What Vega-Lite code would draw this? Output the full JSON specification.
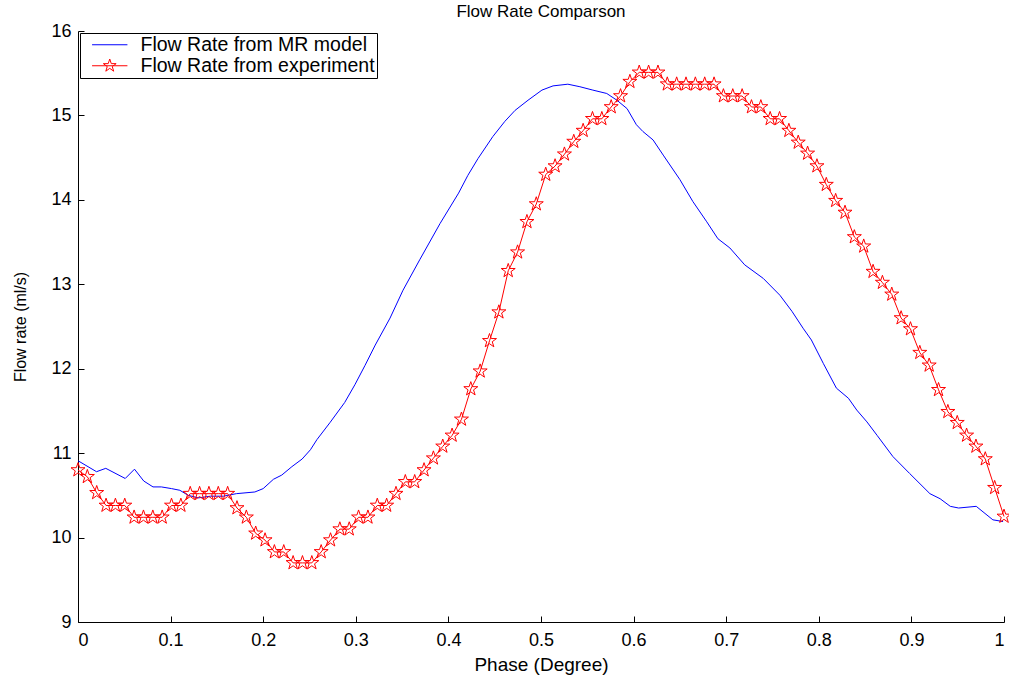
{
  "$schema": "https://vega.github.io/schema/vega-lite/v6.json",
  "width": 926,
  "height": 591,
  "autosize": {"type": "none"},
  "padding": {"left": 78, "top": 31, "right": 5, "bottom": 60},
  "background": "white",
  "title": {"text": "Flow Rate Comparson", "fontSize": 17, "fontWeight": "normal", "font": "Liberation Sans", "offset": 1, "anchor": "middle", "color": "black"},
  "config": {"view": {"stroke": null}, "font": "Liberation Sans"},
  "data": {"values": [
    {"s": "model", "phase": 0.000, "rate": 10.91},
    {"s": "model", "phase": 0.020, "rate": 10.78},
    {"s": "model", "phase": 0.030, "rate": 10.82},
    {"s": "model", "phase": 0.051, "rate": 10.70},
    {"s": "model", "phase": 0.061, "rate": 10.81},
    {"s": "model", "phase": 0.071, "rate": 10.67},
    {"s": "model", "phase": 0.081, "rate": 10.60},
    {"s": "model", "phase": 0.090, "rate": 10.60},
    {"s": "model", "phase": 0.101, "rate": 10.58},
    {"s": "model", "phase": 0.110, "rate": 10.56},
    {"s": "model", "phase": 0.119, "rate": 10.50},
    {"s": "model", "phase": 0.130, "rate": 10.47},
    {"s": "model", "phase": 0.143, "rate": 10.49},
    {"s": "model", "phase": 0.157, "rate": 10.49},
    {"s": "model", "phase": 0.171, "rate": 10.52},
    {"s": "model", "phase": 0.191, "rate": 10.54},
    {"s": "model", "phase": 0.200, "rate": 10.58},
    {"s": "model", "phase": 0.211, "rate": 10.69},
    {"s": "model", "phase": 0.220, "rate": 10.74},
    {"s": "model", "phase": 0.231, "rate": 10.84},
    {"s": "model", "phase": 0.242, "rate": 10.93},
    {"s": "model", "phase": 0.251, "rate": 11.04},
    {"s": "model", "phase": 0.258, "rate": 11.16},
    {"s": "model", "phase": 0.272, "rate": 11.36},
    {"s": "model", "phase": 0.288, "rate": 11.60},
    {"s": "model", "phase": 0.299, "rate": 11.81},
    {"s": "model", "phase": 0.310, "rate": 12.04},
    {"s": "model", "phase": 0.321, "rate": 12.28},
    {"s": "model", "phase": 0.337, "rate": 12.60},
    {"s": "model", "phase": 0.351, "rate": 12.93},
    {"s": "model", "phase": 0.369, "rate": 13.29},
    {"s": "model", "phase": 0.391, "rate": 13.72},
    {"s": "model", "phase": 0.411, "rate": 14.08},
    {"s": "model", "phase": 0.421, "rate": 14.29},
    {"s": "model", "phase": 0.432, "rate": 14.49},
    {"s": "model", "phase": 0.448, "rate": 14.75},
    {"s": "model", "phase": 0.461, "rate": 14.93},
    {"s": "model", "phase": 0.472, "rate": 15.06},
    {"s": "model", "phase": 0.486, "rate": 15.18},
    {"s": "model", "phase": 0.501, "rate": 15.30},
    {"s": "model", "phase": 0.513, "rate": 15.35},
    {"s": "model", "phase": 0.529, "rate": 15.37},
    {"s": "model", "phase": 0.542, "rate": 15.34},
    {"s": "model", "phase": 0.556, "rate": 15.30},
    {"s": "model", "phase": 0.571, "rate": 15.26},
    {"s": "model", "phase": 0.582, "rate": 15.18},
    {"s": "model", "phase": 0.593, "rate": 15.08},
    {"s": "model", "phase": 0.603, "rate": 14.89},
    {"s": "model", "phase": 0.610, "rate": 14.81},
    {"s": "model", "phase": 0.621, "rate": 14.71},
    {"s": "model", "phase": 0.632, "rate": 14.53},
    {"s": "model", "phase": 0.650, "rate": 14.24},
    {"s": "model", "phase": 0.664, "rate": 13.98},
    {"s": "model", "phase": 0.679, "rate": 13.74},
    {"s": "model", "phase": 0.691, "rate": 13.54},
    {"s": "model", "phase": 0.704, "rate": 13.43},
    {"s": "model", "phase": 0.720, "rate": 13.23},
    {"s": "model", "phase": 0.740, "rate": 13.07},
    {"s": "model", "phase": 0.758, "rate": 12.87},
    {"s": "model", "phase": 0.771, "rate": 12.68},
    {"s": "model", "phase": 0.783, "rate": 12.48},
    {"s": "model", "phase": 0.792, "rate": 12.34},
    {"s": "model", "phase": 0.805, "rate": 12.06},
    {"s": "model", "phase": 0.819, "rate": 11.77},
    {"s": "model", "phase": 0.832, "rate": 11.65},
    {"s": "model", "phase": 0.841, "rate": 11.51},
    {"s": "model", "phase": 0.852, "rate": 11.37},
    {"s": "model", "phase": 0.863, "rate": 11.21},
    {"s": "model", "phase": 0.880, "rate": 10.96},
    {"s": "model", "phase": 0.898, "rate": 10.76},
    {"s": "model", "phase": 0.920, "rate": 10.52},
    {"s": "model", "phase": 0.931, "rate": 10.46},
    {"s": "model", "phase": 0.942, "rate": 10.37},
    {"s": "model", "phase": 0.951, "rate": 10.35},
    {"s": "model", "phase": 0.970, "rate": 10.37},
    {"s": "model", "phase": 0.988, "rate": 10.21},
    {"s": "model", "phase": 0.999, "rate": 10.19},
    {"s": "experiment", "phase": 0.0000, "rate": 10.80},
    {"s": "experiment", "phase": 0.0101, "rate": 10.72},
    {"s": "experiment", "phase": 0.0202, "rate": 10.53},
    {"s": "experiment", "phase": 0.0303, "rate": 10.38},
    {"s": "experiment", "phase": 0.0404, "rate": 10.38},
    {"s": "experiment", "phase": 0.0505, "rate": 10.38},
    {"s": "experiment", "phase": 0.0606, "rate": 10.24},
    {"s": "experiment", "phase": 0.0707, "rate": 10.24},
    {"s": "experiment", "phase": 0.0808, "rate": 10.24},
    {"s": "experiment", "phase": 0.0909, "rate": 10.24},
    {"s": "experiment", "phase": 0.1010, "rate": 10.38},
    {"s": "experiment", "phase": 0.1111, "rate": 10.38},
    {"s": "experiment", "phase": 0.1212, "rate": 10.52},
    {"s": "experiment", "phase": 0.1313, "rate": 10.52},
    {"s": "experiment", "phase": 0.1414, "rate": 10.52},
    {"s": "experiment", "phase": 0.1515, "rate": 10.52},
    {"s": "experiment", "phase": 0.1616, "rate": 10.52},
    {"s": "experiment", "phase": 0.1717, "rate": 10.35},
    {"s": "experiment", "phase": 0.1818, "rate": 10.24},
    {"s": "experiment", "phase": 0.1919, "rate": 10.05},
    {"s": "experiment", "phase": 0.2020, "rate": 9.97},
    {"s": "experiment", "phase": 0.2121, "rate": 9.83},
    {"s": "experiment", "phase": 0.2222, "rate": 9.83},
    {"s": "experiment", "phase": 0.2323, "rate": 9.70},
    {"s": "experiment", "phase": 0.2424, "rate": 9.70},
    {"s": "experiment", "phase": 0.2525, "rate": 9.70},
    {"s": "experiment", "phase": 0.2626, "rate": 9.83},
    {"s": "experiment", "phase": 0.2727, "rate": 9.97},
    {"s": "experiment", "phase": 0.2828, "rate": 10.10},
    {"s": "experiment", "phase": 0.2929, "rate": 10.10},
    {"s": "experiment", "phase": 0.3030, "rate": 10.24},
    {"s": "experiment", "phase": 0.3131, "rate": 10.24},
    {"s": "experiment", "phase": 0.3232, "rate": 10.38},
    {"s": "experiment", "phase": 0.3333, "rate": 10.38},
    {"s": "experiment", "phase": 0.3434, "rate": 10.52},
    {"s": "experiment", "phase": 0.3535, "rate": 10.66},
    {"s": "experiment", "phase": 0.3636, "rate": 10.66},
    {"s": "experiment", "phase": 0.3737, "rate": 10.80},
    {"s": "experiment", "phase": 0.3838, "rate": 10.94},
    {"s": "experiment", "phase": 0.3939, "rate": 11.08},
    {"s": "experiment", "phase": 0.4040, "rate": 11.21},
    {"s": "experiment", "phase": 0.4141, "rate": 11.40},
    {"s": "experiment", "phase": 0.4242, "rate": 11.76},
    {"s": "experiment", "phase": 0.4343, "rate": 11.97},
    {"s": "experiment", "phase": 0.4444, "rate": 12.33},
    {"s": "experiment", "phase": 0.4545, "rate": 12.67},
    {"s": "experiment", "phase": 0.4646, "rate": 13.16},
    {"s": "experiment", "phase": 0.4747, "rate": 13.38},
    {"s": "experiment", "phase": 0.4848, "rate": 13.74},
    {"s": "experiment", "phase": 0.4949, "rate": 13.95},
    {"s": "experiment", "phase": 0.5051, "rate": 14.30},
    {"s": "experiment", "phase": 0.5152, "rate": 14.40},
    {"s": "experiment", "phase": 0.5253, "rate": 14.54},
    {"s": "experiment", "phase": 0.5354, "rate": 14.69},
    {"s": "experiment", "phase": 0.5455, "rate": 14.82},
    {"s": "experiment", "phase": 0.5556, "rate": 14.96},
    {"s": "experiment", "phase": 0.5657, "rate": 14.96},
    {"s": "experiment", "phase": 0.5758, "rate": 15.10},
    {"s": "experiment", "phase": 0.5859, "rate": 15.23},
    {"s": "experiment", "phase": 0.5960, "rate": 15.40},
    {"s": "experiment", "phase": 0.6061, "rate": 15.51},
    {"s": "experiment", "phase": 0.6162, "rate": 15.51},
    {"s": "experiment", "phase": 0.6263, "rate": 15.51},
    {"s": "experiment", "phase": 0.6364, "rate": 15.37},
    {"s": "experiment", "phase": 0.6465, "rate": 15.37},
    {"s": "experiment", "phase": 0.6566, "rate": 15.37},
    {"s": "experiment", "phase": 0.6667, "rate": 15.37},
    {"s": "experiment", "phase": 0.6768, "rate": 15.37},
    {"s": "experiment", "phase": 0.6869, "rate": 15.37},
    {"s": "experiment", "phase": 0.6970, "rate": 15.23},
    {"s": "experiment", "phase": 0.7071, "rate": 15.23},
    {"s": "experiment", "phase": 0.7172, "rate": 15.23},
    {"s": "experiment", "phase": 0.7273, "rate": 15.10},
    {"s": "experiment", "phase": 0.7374, "rate": 15.10},
    {"s": "experiment", "phase": 0.7475, "rate": 14.96},
    {"s": "experiment", "phase": 0.7576, "rate": 14.96},
    {"s": "experiment", "phase": 0.7677, "rate": 14.82},
    {"s": "experiment", "phase": 0.7778, "rate": 14.68},
    {"s": "experiment", "phase": 0.7879, "rate": 14.55},
    {"s": "experiment", "phase": 0.7980, "rate": 14.40},
    {"s": "experiment", "phase": 0.8081, "rate": 14.18},
    {"s": "experiment", "phase": 0.8182, "rate": 13.99},
    {"s": "experiment", "phase": 0.8283, "rate": 13.85},
    {"s": "experiment", "phase": 0.8384, "rate": 13.56},
    {"s": "experiment", "phase": 0.8485, "rate": 13.45},
    {"s": "experiment", "phase": 0.8586, "rate": 13.15},
    {"s": "experiment", "phase": 0.8687, "rate": 13.02},
    {"s": "experiment", "phase": 0.8788, "rate": 12.88},
    {"s": "experiment", "phase": 0.8889, "rate": 12.60},
    {"s": "experiment", "phase": 0.8990, "rate": 12.47},
    {"s": "experiment", "phase": 0.9091, "rate": 12.19},
    {"s": "experiment", "phase": 0.9192, "rate": 12.04},
    {"s": "experiment", "phase": 0.9293, "rate": 11.75},
    {"s": "experiment", "phase": 0.9394, "rate": 11.49},
    {"s": "experiment", "phase": 0.9495, "rate": 11.36},
    {"s": "experiment", "phase": 0.9596, "rate": 11.21},
    {"s": "experiment", "phase": 0.9697, "rate": 11.08},
    {"s": "experiment", "phase": 0.9798, "rate": 10.93},
    {"s": "experiment", "phase": 0.9899, "rate": 10.59},
    {"s": "experiment", "phase": 1.0000, "rate": 10.25}
  ]},
  "layer": [
    {
      "mark": {"type": "line", "strokeWidth": 1, "clip": false},
      "encoding": {
        "x": {"field": "phase", "type": "quantitative",
          "scale": {"domain": [0, 1], "nice": false, "zero": false},
          "axis": {"title": "Phase (Degree)", "values": [0, 0.1, 0.2, 0.3, 0.4, 0.5, 0.6, 0.7, 0.8, 0.9, 1], "format": "~g", "grid": false,
            "domainColor": "black", "tickColor": "black", "tickSize": -6, "labelPadding": 15,
            "labelFontSize": 18, "labelColor": "black", "labelFont": "Liberation Sans",
            "titleFontSize": 19, "titleFontWeight": "normal", "titleColor": "black", "titleFont": "Liberation Sans", "titlePadding": 6}},
        "y": {"field": "rate", "type": "quantitative",
          "scale": {"domain": [9, 16], "nice": false, "zero": false},
          "axis": {"title": "Flow rate (ml/s)", "values": [9, 10, 11, 12, 13, 14, 15, 16], "format": "d", "grid": false,
            "domainColor": "black", "tickColor": "black", "tickSize": -6, "labelPadding": 13,
            "labelFontSize": 18, "labelColor": "black", "labelFont": "Liberation Sans",
            "titleFontSize": 16, "titleFontWeight": "normal", "titleColor": "black", "titleFont": "Liberation Sans", "titlePadding": 22}},
        "color": {"field": "s", "type": "nominal",
          "scale": {"domain": ["model", "experiment"], "range": ["#0000ff", "#ff0000"]},
          "legend": {"orient": "top-left", "offset": 2, "title": null,
            "strokeColor": "black", "fillColor": "white", "padding": 2,
            "symbolType": "stroke", "symbolSize": 200, "symbolStrokeWidth": 1, "symbolOffset": 18,
            "labelFontSize": 19.5, "labelFont": "Liberation Sans", "labelColor": "black", "labelOffset": 21, "labelLimit": 500,
            "rowPadding": 0,
            "labelExpr": "datum.value == 'model' ? 'Flow Rate from MR model' : 'Flow Rate from experiment'",
            "encode": {"symbols": {"update": {"shape": {"signal": "datum.value == 'model' ? 'M-2.5,0H2.5' : 'M-2.5,0H2.5M0,-0.95L0.218,-0.299L0.903,-0.294L0.352,0.114L0.559,0.769L0,0.37L-0.559,0.769L-0.352,0.114L-0.903,-0.294L-0.218,-0.299Z'"}}}}}
        }
      }
    },
    {
      "transform": [{"filter": "datum.s == 'experiment'"}],
      "mark": {"type": "point", "shape": "M0,-0.95L0.218,-0.299L0.903,-0.294L0.352,0.114L0.559,0.769L0,0.37L-0.559,0.769L-0.352,0.114L-0.903,-0.294L-0.218,-0.299Z", "size": 240, "filled": false, "strokeWidth": 1, "color": "#ff0000", "opacity": 1, "clip": false},
      "encoding": {
        "x": {"field": "phase", "type": "quantitative"},
        "y": {"field": "rate", "type": "quantitative"}
      }
    }
  ]
}
